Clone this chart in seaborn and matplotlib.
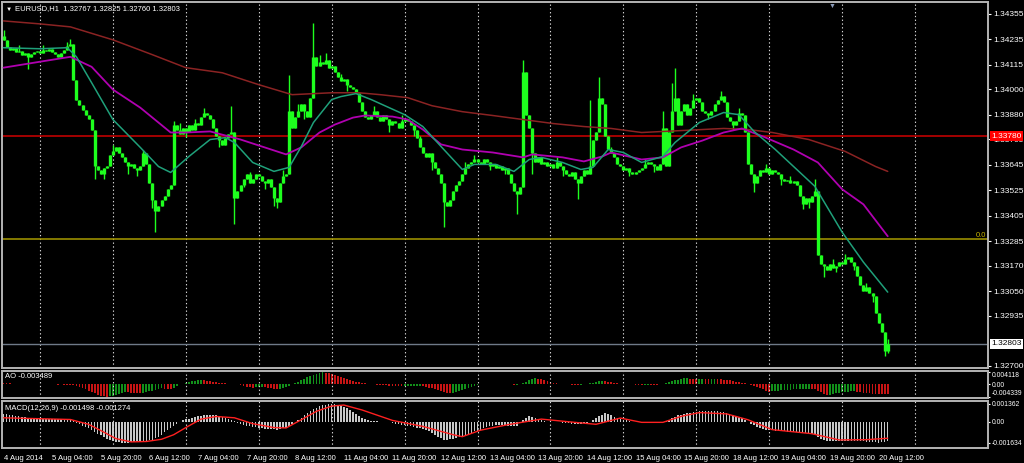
import numpy as np
import seaborn as sns
import matplotlib
matplotlib.use("Agg")
import matplotlib.pyplot as plt
from matplotlib.transforms import blended_transform_factory

# ---- data (prices in 1e-5 above 1.30000, indicators in 1e-5) ----
first_open = 4250
closes = [
    4230, 4200, 4185, 4195, 4175, 4180, 4160, 4170, 4150, 4165,
    4175, 4180, 4170, 4185, 4180, 4190, 4175, 4165, 4150, 4170,
    4185, 4205, 4215, 4045, 3952, 3928, 3905, 3880, 3860, 3811,
    3640, 3620, 3600, 3630, 3640, 3690, 3710, 3730, 3700, 3680,
    3660, 3640, 3650, 3630, 3620, 3640, 3700, 3650, 3560, 3480,
    3430, 3450, 3480, 3500, 3530, 3550, 3830, 3810, 3790, 3820,
    3800, 3830, 3810, 3840, 3830, 3870, 3890, 3880, 3860, 3820,
    3780, 3760, 3740, 3770, 3790, 3800, 3490, 3520, 3550, 3580,
    3600, 3560, 3580, 3600, 3590, 3570, 3560, 3580, 3540, 3490,
    3470, 3560, 3590, 3600, 3900, 3820, 3870, 3900, 3930, 3900,
    3870, 3960, 4150, 4110, 4130, 4120, 4140, 4100, 4110, 4080,
    4060, 4040, 4050, 4020, 4010, 4000, 3985, 3940, 3900, 3870,
    3860, 3880, 3900, 3870, 3850, 3880, 3860, 3830, 3850, 3840,
    3820, 3850, 3860, 3850, 3830, 3810, 3770, 3730, 3700, 3680,
    3700, 3660, 3630, 3600, 3560, 3470, 3450, 3480, 3520, 3550,
    3570, 3600, 3630, 3650, 3660, 3670, 3660, 3650, 3670, 3660,
    3640, 3650, 3630, 3640, 3620, 3630, 3600, 3560, 3520, 3510,
    3540, 4080, 3880, 3820, 3700, 3660, 3680, 3650, 3660, 3640,
    3650, 3630, 3660, 3640, 3620, 3600, 3590, 3610, 3580, 3560,
    3590, 3620, 3600, 3640, 3760, 3800, 3960, 3930, 3780, 3720,
    3700, 3680, 3650, 3640, 3620, 3630, 3610, 3600, 3610, 3620,
    3630, 3650, 3660, 3650, 3640, 3620, 3650, 3820, 3640, 3800,
    3900, 3960, 3830, 3900, 3930, 3880, 3910, 3950, 3960, 3940,
    3900, 3890, 3880, 3900, 3930, 3950, 3970, 3940, 3870, 3850,
    3830, 3850, 3890, 3880, 3800, 3650, 3600, 3560, 3590, 3620,
    3610, 3630, 3600, 3620, 3610, 3600, 3580, 3570, 3575, 3560,
    3570, 3550, 3500, 3460, 3490, 3470, 3500, 3520, 3220, 3180,
    3170, 3150, 3180, 3160, 3170, 3190, 3180, 3200, 3210, 3190,
    3170, 3120, 3080, 3050, 3070, 3040, 3030, 2950, 2900, 2860,
    2767, 2803,
]
wick_hi = {0: 4280, 5: 4210, 13: 4210, 21: 4225, 22: 4235, 36: 3740, 46: 3717,
           56: 3850, 58: 3840, 63: 3860, 66: 3910, 75: 3924, 81: 3610, 92: 3620,
           94: 4069, 97: 3930, 102: 4313, 104: 4160, 106: 4170, 111: 4070,
           119: 3900, 122: 3920, 131: 3880, 137: 3780, 152: 3660, 155: 3690,
           171: 4139, 182: 3680, 193: 3952, 196: 4059, 200: 3730, 211: 3670,
           217: 3900, 220: 4031, 221: 4102, 227: 3980, 230: 3930, 236: 3990,
           242: 3910, 251: 3650, 259: 3590, 267: 3577, 273: 3200, 277: 3225,
           284: 3090, 291: 2825}
wick_lo = {8: 4095, 30: 3577, 33: 3580, 41: 3600, 44: 3590, 49: 3440, 50: 3328,
           60: 3775, 71: 3730, 76: 3365, 79: 3540, 86: 3530, 89: 3450, 90: 3440,
           99: 3860, 113: 3990, 127: 3800, 135: 3780, 141: 3620, 145: 3351,
           160: 3620, 165: 3600, 169: 3412, 174: 3600, 184: 3590, 189: 3483,
           206: 3590, 214: 3610, 232: 3860, 240: 3810, 247: 3515, 256: 3550,
           263: 3436, 265: 3440, 270: 3117, 274: 3140, 280: 3150, 286: 3000,
           290: 2746, 291: 2760}

ma_slow_bars = [0, 12, 22, 36, 49, 60, 72, 84, 95, 108, 117, 124, 133, 141, 151,
                161, 171, 181, 191, 200, 210, 223, 237, 245, 253, 265, 277, 287, 291]
ma_slow = [4322, 4308, 4294, 4233, 4163, 4102, 4078, 4022, 3975, 3984, 3984, 3975,
           3961, 3923, 3895, 3877, 3858, 3839, 3825, 3816, 3797, 3806, 3816, 3811,
           3797, 3764, 3708, 3637, 3614]
ma_mid_bars = [0, 12, 22, 29, 36, 45, 55, 60, 68, 78, 84, 93, 98, 104, 109, 115,
               119, 128, 133, 138, 144, 151, 161, 171, 174, 184, 191, 197, 200, 210,
               217, 223, 230, 237, 243, 250, 260, 268, 276, 283, 291]
ma_mid = [4102, 4130, 4153, 4106, 3999, 3914, 3797, 3797, 3802, 3764, 3736, 3694,
          3727, 3797, 3834, 3867, 3877, 3872, 3858, 3811, 3741, 3717, 3703, 3680,
          3694, 3680, 3661, 3684, 3703, 3670, 3680, 3727, 3759, 3797, 3816, 3778,
          3717, 3656, 3530, 3459, 3309]
ma_fast_bars = [0, 12, 21, 24, 29, 36, 45, 51, 55, 61, 68, 73, 76, 82, 89, 94, 98,
                102, 108, 111, 116, 121, 132, 138, 144, 151, 155, 162, 168, 173, 177,
                184, 190, 194, 199, 204, 210, 217, 221, 229, 237, 242, 247, 254, 267,
                276, 283, 291]
ma_fast = [4196, 4191, 4196, 4153, 4031, 3858, 3727, 3637, 3609, 3684, 3764, 3773,
           3750, 3656, 3614, 3633, 3731, 3844, 3952, 3966, 3980, 3952, 3881, 3825,
           3731, 3623, 3647, 3647, 3614, 3670, 3680, 3656, 3623, 3633, 3717, 3703,
           3656, 3684, 3750, 3844, 3891, 3881, 3802, 3717, 3544, 3328, 3187, 3046]

ao = [
    40, 35, 30, 22, 15, 8, 5, 0, -5, -8,
    -5, 0, 3, 5, 2, -2, -5, -8, -12, -10,
    -14, -18, -22, -40, -70, -100, -140, -180, -220, -265,
    -310, -350, -385, -410, -434, -410, -385, -355, -320, -290,
    -270, -280, -290, -300, -305, -310, -290, -265, -240, -215,
    -190, -170, -140, -150, -160, -165, -120, -60, -10, 20,
    45, 70, 95, 115, 130, 135, 125, 110, 95, 80,
    70, 55, 40, 30, 20, 15, 5, -10, -30, -55,
    -80, -100, -120, -110, -100, -95, -105, -120, -140, -160,
    -180, -165, -140, -110, -60, -10, 40, 90, 140, 190,
    230, 270, 310, 350, 385, 412, 395, 370, 340, 310,
    280, 250, 215, 180, 145, 115, 90, 70, 50, 30,
    15, 5, -5, -15, -25, -30, -40, -50, -60, -65,
    -70, -75, -70, -65, -62, -60, -58, -55, -75, -95,
    -115, -140, -165, -195, -225, -260, -290, -305, -290, -260,
    -225, -190, -150, -115, -80, -50, -25, -10, -5, 0,
    5, 8, 5, 2, 0, -3, -5, -10, -15, -12,
    -5, 30, 80, 130, 170, 200, 185, 160, 130, 100,
    70, 45, 25, 10, 0, -5, -10, -15, -18, -20,
    -15, -5, 5, 25, 55, 85, 105, 115, 100, 85,
    70, 50, 35, 20, 10, 0, -5, -10, -15, -20,
    -20, -18, -15, -15, -18, -20, -10, 20, 45, 70,
    100, 130, 155, 180, 195, 205, 190, 175, 165, 170,
    180, 175, 165, 170, 175, 170, 160, 150, 140, 125,
    110, 90, 70, 50, 30, 10, -20, -60, -100, -140,
    -180, -220, -250, -240, -230, -220, -210, -200, -195, -185,
    -180, -175, -170, -165, -160, -150, -160, -175, -220, -280,
    -330, -360, -350, -330, -310, -290, -275, -260, -250, -245,
    -240, -255, -270, -285, -300, -315, -330, -335, -340, -345,
    -348, -349,
]
macd = [
    60, 56, 52, 48, 44, 40, 37, 34, 31, 28,
    25, 24, 23, 22, 21, 20, 20, 20, 19, 19,
    20, 20, 18, 5, -8, -20, -30, -40, -52, -65,
    -78, -92, -105, -118, -130, -140, -148, -155, -158, -162,
    -163, -160, -158, -155, -152, -150, -148, -145, -142, -138,
    -128, -115, -100, -82, -65, -48, -30, -15, 0, 10,
    18, 24, 30, 36, 42, 47, 50, 53, 55, 52,
    48, 44, 38, 30, 22, 12, 2, -8, -16, -24,
    -30, -35, -40, -44, -48, -50, -53, -55, -57, -59,
    -60, -58, -52, -45, -32, -20, -5, 12, 30, 48,
    65, 80, 95, 108, 118, 126, 131, 135, 136, 134,
    130, 124, 115, 105, 90, 75, 60, 45, 30, 20,
    12, 6, 5, 2, 0, -2, -4, -6, -10, -14,
    -18, -22, -26, -30, -35, -40, -46, -52, -55, -62,
    -72, -84, -100, -115, -128, -140, -138, -135, -130, -125,
    -118, -110, -102, -94, -85, -75, -68, -60, -52, -44,
    -36, -30, -26, -24, -25, -27, -30, -33, -35, -30,
    -10, 10, 30, 40, 35, 30, 22, 14, 5, 0,
    -2, -3, -4, -5, -8, -10, -12, -14, -15, -15,
    -14, -12, -10, -5, 10, 25, 40, 55, 65, 58,
    48, 38, 28, 20, 14, 10, 5, 0, -3, -5,
    -6, -8, -10, -11, -12, -10, -8, -5, 5, 15,
    25, 38, 48, 55, 60, 65, 70, 74, 77, 79,
    80, 80, 81, 82, 81, 80, 78, 74, 68, 60,
    52, 44, 36, 28, 15, 0, -15, -28, -40, -48,
    -55, -60, -63, -66, -68, -70, -72, -74, -76, -78,
    -80, -82, -84, -86, -90, -93, -95, -98, -115, -130,
    -142, -148, -150, -151, -150, -149, -148, -147, -146, -145,
    -145, -147, -149, -151, -153, -155, -157, -159, -160, -158,
    -154, -150,
]
signal_bars = [0, 22, 28, 33, 37, 42, 47, 52, 56, 60, 65, 70, 76, 82, 89, 93, 98,
               103, 108, 112, 118, 128, 138, 148, 151, 157, 166, 177, 188, 195, 203,
               210, 217, 223, 229, 238, 245, 253, 266, 275, 284, 291]
signal = [30, 17, -20, -80, -130, -155, -152, -135, -100, -45, 20, 40, 30, -15, -45,
          -48, 15, 80, 120, 128, 90, 10, -36, -100, -115, -65, -23, 20, -5, -20, 28,
          -5, -5, 41, 70, 60, 15, -61, -92, -140, -138, -127]

day_bars = [12, 36, 60, 84, 108, 132, 156, 180, 204, 228, 252, 276, 300]
time_bars = [0, 16, 32, 48, 64, 80, 96, 112, 128, 144, 160, 176, 192, 208, 224,
             240, 256, 272, 288]
time_labels = ["4 Aug 2014", "5 Aug 04:00", "5 Aug 20:00", "6 Aug 12:00",
               "7 Aug 04:00", "7 Aug 20:00", "8 Aug 12:00", "11 Aug 04:00",
               "11 Aug 20:00", "12 Aug 12:00", "13 Aug 04:00", "13 Aug 20:00",
               "14 Aug 12:00", "15 Aug 04:00", "15 Aug 20:00", "18 Aug 12:00",
               "19 Aug 04:00", "19 Aug 20:00", "20 Aug 12:00"]
price_ticks = [1.34355, 1.34235, 1.34115, 1.34000, 1.33880, 1.33765, 1.33645,
               1.33525, 1.33405, 1.33285, 1.33170, 1.33050, 1.32935, 1.32700]
level_red = 1.33780
level_fibo = 1.33296
level_bid = 1.32803

def px(v):
    return 1.3 + np.asarray(v, dtype=float) / 1e5

# ---- style ----
sns.set_style("dark", rc={"axes.facecolor": "black", "figure.facecolor": "black",
                          "axes.edgecolor": "#b4b4b4", "text.color": "white",
                          "xtick.color": "white", "ytick.color": "white"})
plt.rcParams["font.family"] = ["Liberation Sans", "DejaVu Sans"]

W, H = 1024, 463
fig = plt.figure(figsize=(W / 100, H / 100), dpi=100, facecolor="black")

def box(top, bottom, left=2, right=988):
    return [left / W, 1 - bottom / H, (right - left) / W, (bottom - top) / H]

ax = fig.add_axes(box(2, 368))
ax_ao = fig.add_axes(box(371, 398))
ax_m = fig.add_axes(box(401, 448))

n = len(closes)
x = np.arange(n)
c = px(closes)
o = px([first_open] + closes[:-1])
hi = np.maximum(o, c)
lo = np.minimum(o, c)
for b, v in wick_hi.items():
    hi[b] = max(hi[b], px(v))
for b, v in wick_lo.items():
    lo[b] = min(lo[b], px(v))

lime = "#1eff1e"
ax.vlines(x, lo, hi, color=lime, lw=1.0, zorder=3)
ax.vlines(x, np.minimum(o, c), np.maximum(o, c), color=lime, lw=2.4, zorder=3)

sns.lineplot(x=ma_slow_bars, y=px(ma_slow), ax=ax, color="#8b2323", lw=1.1, zorder=4)
sns.lineplot(x=ma_mid_bars, y=px(ma_mid), ax=ax, color="#b000b0", lw=1.3, zorder=4)
sns.lineplot(x=ma_fast_bars, y=px(ma_fast), ax=ax, color="#1fa07a", lw=1.1, zorder=4)

ax.axhline(level_red, color="#d00000", lw=1.1, zorder=2)
ax.axhline(level_fibo, color="#a89a00", lw=1.1, zorder=2)
ax.axhline(level_bid, color="#6f7a88", lw=1.0, zorder=2)

tr = blended_transform_factory(ax.transAxes, ax.transData)
ax.text(0.998, level_fibo, "0.0", transform=tr, color="#c8b400", fontsize=5.5,
        ha="right", va="bottom")
ax.text(1.003, level_red, f"{level_red:.5f}", transform=tr, color="white",
        fontsize=6, ha="left", va="center", clip_on=False, zorder=6,
        bbox=dict(boxstyle="square,pad=0.15", fc="#ff0000", ec="none"))
ax.text(1.003, level_bid, f"{level_bid:.5f}", transform=tr, color="black",
        fontsize=6, ha="left", va="center", clip_on=False, zorder=6,
        bbox=dict(boxstyle="square,pad=0.15", fc="white", ec="none"))

# AO histogram
ao_v = np.array(ao) / 1e5
ao_col = ["#c81414"] + ["#12901a" if ao[i] > ao[i - 1] else "#c81414" for i in range(1, n)]
ax_ao.bar(x, ao_v, width=0.6, color=ao_col, lw=0)

# MACD
ax_m.bar(x, np.array(macd) / 1e5, width=0.5, color="#c8c8c8", lw=0)
sns.lineplot(x=signal_bars, y=np.array(signal) / 1e5, ax=ax_m, color="#ff2020", lw=1.0)

# axes setup
for a in (ax, ax_ao, ax_m):
    a.set_xlim(-0.5, 324)
    a.set_xlabel("")
    a.set_ylabel("")
    a.yaxis.tick_right()
    a.tick_params(axis="y", labelsize=6, length=2, width=0.8, pad=2, colors="white")
    for s in a.spines.values():
        s.set_color("#b4b4b4")
        s.set_linewidth(1.4)
    for b in day_bars:
        a.axvline(b, color="#d8d8d8", lw=0.8, ls=(0, (1.2, 2.2)), zorder=1)

ax.set_ylim(1.32689, 1.34411)
ax.set_yticks(price_ticks)
ax.set_yticklabels([f"{p:.5f}" for p in price_ticks])

ax_ao.set_ylim(-0.00468, 0.00446)
ax_ao.set_yticks([0.004118, 0.0, -0.004339])
ax_ao.set_yticklabels(["0.004118", "0.00", "-0.004339"])
ax_ao.tick_params(axis="y", labelsize=4.9, length=1.5, pad=1.2)
ao_labels = ax_ao.get_yticklabels()
ao_labels[0].set_va("top")
ao_labels[-1].set_va("bottom")

ax_m.set_ylim(-0.00202, 0.00159)
ax_m.set_yticks([0.001362, 0.0, -0.001634])
ax_m.set_yticklabels(["0.001362", "0.00", "-0.001634"])
ax_m.tick_params(axis="y", labelsize=4.9, length=1.5, pad=1.2)

ax.set_xticks([])
ax_ao.set_xticks([])
ax_m.set_xticks(time_bars)
ax_m.set_xticklabels(time_labels, ha="left")
ax_m.tick_params(axis="x", labelsize=5.5, length=3, width=0.8, pad=2, colors="white")

# header texts
fig.text(6 / W, 1 - 9 / H, "\u25bc", color="white", fontsize=4.5, va="center")
fig.text(15 / W, 1 - 9 / H, "EURUSD,H1  1.32767 1.32825 1.32760 1.32803",
         color="white", fontsize=5.5, va="center")
fig.text(832 / W, 1 - 6 / H, "\u25bc", color="#8a9ab8", fontsize=5, ha="center",
         va="center")
fig.text(5 / W, 1 - 377 / H, "AO -0.003489", color="white", fontsize=5.5, va="center")
fig.text(5 / W, 1 - 408 / H, "MACD(12,26,9) -0.001498 -0.001274", color="white",
         fontsize=5.5, va="center")

fig.savefig("out.png", dpi=100, facecolor="black")
